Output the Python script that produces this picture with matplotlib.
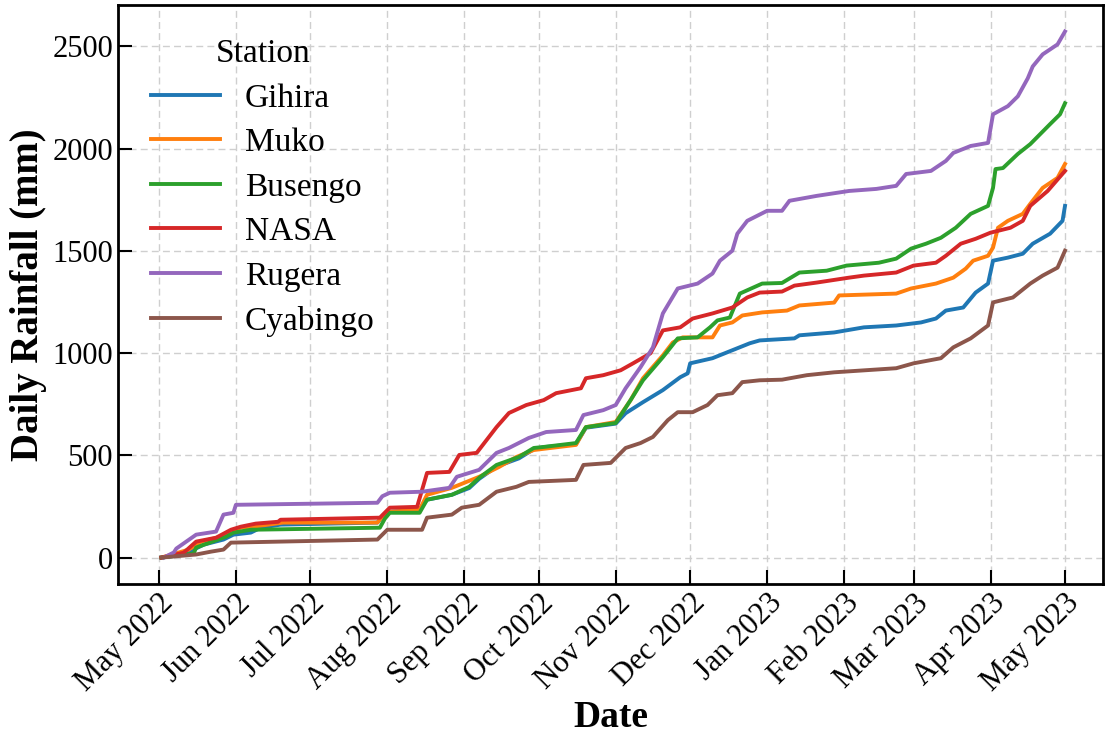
import matplotlib
matplotlib.use("Agg")
import matplotlib.pyplot as plt
import matplotlib.dates as mdates
import pandas as pd

# -----------------------------
# Cumulative rainfall per station (days since 2022-05-01, mm)
# -----------------------------
START = pd.Timestamp("2022-05-01")

gihira_days = [1, 8, 14, 18, 26, 30, 37, 41, 49, 88, 90, 93, 105, 108, 118, 125, 129, 136, 145, 151,
               155, 168, 172, 184, 188, 195, 203, 210, 213, 214, 223, 231, 238, 242, 256, 258, 272, 284,
               297, 307, 313, 317, 324, 329, 334, 336, 342, 348, 352, 359, 364, 365]
gihira_mm = [0, 10, 39, 63, 88, 112, 122, 146, 161, 171, 200, 224, 234, 283, 307, 340, 385, 445, 485, 530,
             540, 555, 635, 655, 706, 760, 819, 882, 901, 950, 975, 1014, 1048, 1062, 1072, 1087, 1101, 1126,
             1135, 1150, 1169, 1208, 1223, 1296, 1340, 1452, 1467, 1486, 1535, 1584, 1647, 1720]

muko_days = [1, 12, 17, 25, 29, 33, 41, 50, 88, 90, 93, 105, 108, 118, 129, 137, 144, 151, 168, 172,
             184, 190, 195, 203, 207, 211, 223, 226, 231, 235, 243, 253, 258, 272, 274, 297, 303, 313,
             320, 325, 328, 334, 336, 338, 342, 348, 351, 356, 362, 365]
muko_mm = [0, 39, 78, 102, 127, 146, 156, 171, 171, 200, 224, 234, 307, 341, 395, 443, 492, 526, 551, 638,
           663, 770, 877, 989, 1052, 1077, 1077, 1135, 1150, 1184, 1199, 1208, 1233, 1247, 1282, 1291, 1316, 1340,
           1369, 1413, 1452, 1476, 1516, 1613, 1647, 1681, 1730, 1808, 1857, 1925]

busengo_days = [1, 14, 15, 27, 30, 37, 89, 91, 93, 105, 108, 118, 125, 129, 136, 145, 151, 155, 168, 172,
                184, 190, 195, 203, 209, 217, 222, 225, 230, 234, 243, 251, 258, 269, 277, 290, 297, 303,
                309, 315, 321, 327, 334, 336, 337, 340, 346, 351, 355, 359, 363, 365]
busengo_mm = [0, 20, 49, 102, 122, 136, 146, 190, 219, 219, 283, 307, 346, 390, 453, 492, 536, 541, 560, 638,
              658, 770, 867, 980, 1072, 1077, 1126, 1160, 1174, 1291, 1340, 1343, 1394, 1403, 1428, 1442, 1462, 1511,
              1535, 1564, 1613, 1681, 1720, 1808, 1900, 1905, 1974, 2022, 2071, 2120, 2168, 2222]

nasa_days = [1, 10, 15, 23, 29, 33, 39, 48, 49, 89, 93, 104, 108, 117, 121, 128, 136, 141, 148, 155,
             160, 170, 172, 179, 186, 191, 198, 203, 210, 215, 223, 231, 237, 242, 251, 256, 265, 278,
             284, 297, 304, 313, 317, 323, 329, 335, 343, 348, 351, 358, 365]
nasa_mm = [0, 24, 78, 97, 136, 151, 166, 175, 185, 195, 244, 248, 414, 419, 502, 512, 638, 707, 746, 770,
           804, 828, 877, 892, 916, 950, 999, 1111, 1126, 1169, 1194, 1223, 1272, 1296, 1301, 1330, 1345, 1369,
           1379, 1394, 1428, 1442, 1476, 1535, 1559, 1589, 1613, 1647, 1720, 1793, 1891]

rugera_days = [2, 6, 7, 15, 23, 26, 30, 31, 88, 90, 93, 106, 117, 120, 129, 136, 141, 149, 156, 168,
               171, 179, 184, 188, 194, 199, 203, 209, 217, 223, 226, 231, 233, 237, 245, 251, 254, 265,
               278, 289, 297, 301, 311, 317, 320, 327, 334, 336, 342, 346, 350, 352, 356, 362, 365]
rugera_mm = [0, 25, 44, 112, 127, 210, 219, 258, 268, 300, 317, 322, 341, 395, 429, 512, 536, 585, 614, 624,
             697, 721, 746, 828, 931, 1028, 1194, 1316, 1340, 1389, 1452, 1501, 1584, 1647, 1696, 1696, 1745, 1769,
             1793, 1803, 1818, 1876, 1891, 1940, 1979, 2013, 2028, 2168, 2208, 2256, 2344, 2402, 2461, 2510, 2573]

cyabingo_days = [1, 15, 21, 26, 29, 88, 90, 92, 106, 108, 118, 122, 129, 136, 144, 149, 168, 171, 182, 188,
                 194, 199, 205, 209, 215, 221, 225, 231, 235, 242, 251, 261, 272, 297, 304, 315, 320, 327,
                 334, 336, 344, 351, 356, 362, 365]
cyabingo_mm = [0, 15, 29, 39, 73, 88, 112, 136, 136, 195, 210, 244, 258, 322, 346, 370, 380, 453, 463, 536,
               560, 590, 672, 711, 711, 746, 794, 804, 858, 867, 870, 892, 906, 926, 950, 975, 1028, 1072,
               1135, 1248, 1272, 1340, 1379, 1418, 1501]

stations = ["Gihira", "Muko", "Busengo", "NASA", "Rugera", "Cyabingo"]
series = [
    (gihira_days, gihira_mm),
    (muko_days, muko_mm),
    (busengo_days, busengo_mm),
    (nasa_days, nasa_mm),
    (rugera_days, rugera_mm),
    (cyabingo_days, cyabingo_mm),
]

# -----------------------------
# Style
# -----------------------------
plt.rcParams["font.family"] = ["Liberation Serif", "DejaVu Serif"]
plt.rcParams["axes.linewidth"] = 2.0

fig, ax = plt.subplots(figsize=(11.13, 7.4), dpi=100)
fig.subplots_adjust(left=0.106, right=0.991, top=0.993, bottom=0.211)

for name, (days, mm) in zip(stations, series):
    dates = START + pd.to_timedelta(days, unit="D")
    ax.plot(dates, mm, label=name, lw=2.8)

ax.set_xlim(START - pd.Timedelta(days=16.5), START + pd.Timedelta(days=380.3))
ax.xaxis.set_major_locator(mdates.MonthLocator())
ax.xaxis.set_major_formatter(mdates.DateFormatter("%b %Y"))
ax.set_yticks([0, 500, 1000, 1500, 2000, 2500])

ax.tick_params(axis="both", which="major", direction="in", length=10, width=1.5,
               labelsize=22)
plt.setp(ax.get_xticklabels(), rotation=45, ha="right", rotation_mode="anchor")

ax.grid(True, linestyle=(0, (5, 3)), color="#cfcfcf", linewidth=1.0)
ax.set_axisbelow(True)

ax.set_xlabel("Date", fontsize=27, fontweight="bold", labelpad=2)
ax.set_ylabel("Daily Rainfall (mm)", fontsize=28, fontweight="bold")

leg = ax.legend(title="Station", loc="upper left", frameon=False, fontsize=24,
                title_fontsize=24, handlelength=2.05, handletextpad=0.75,
                labelspacing=0.42, borderaxespad=0.6)

fig.savefig("out.png", dpi=100)
